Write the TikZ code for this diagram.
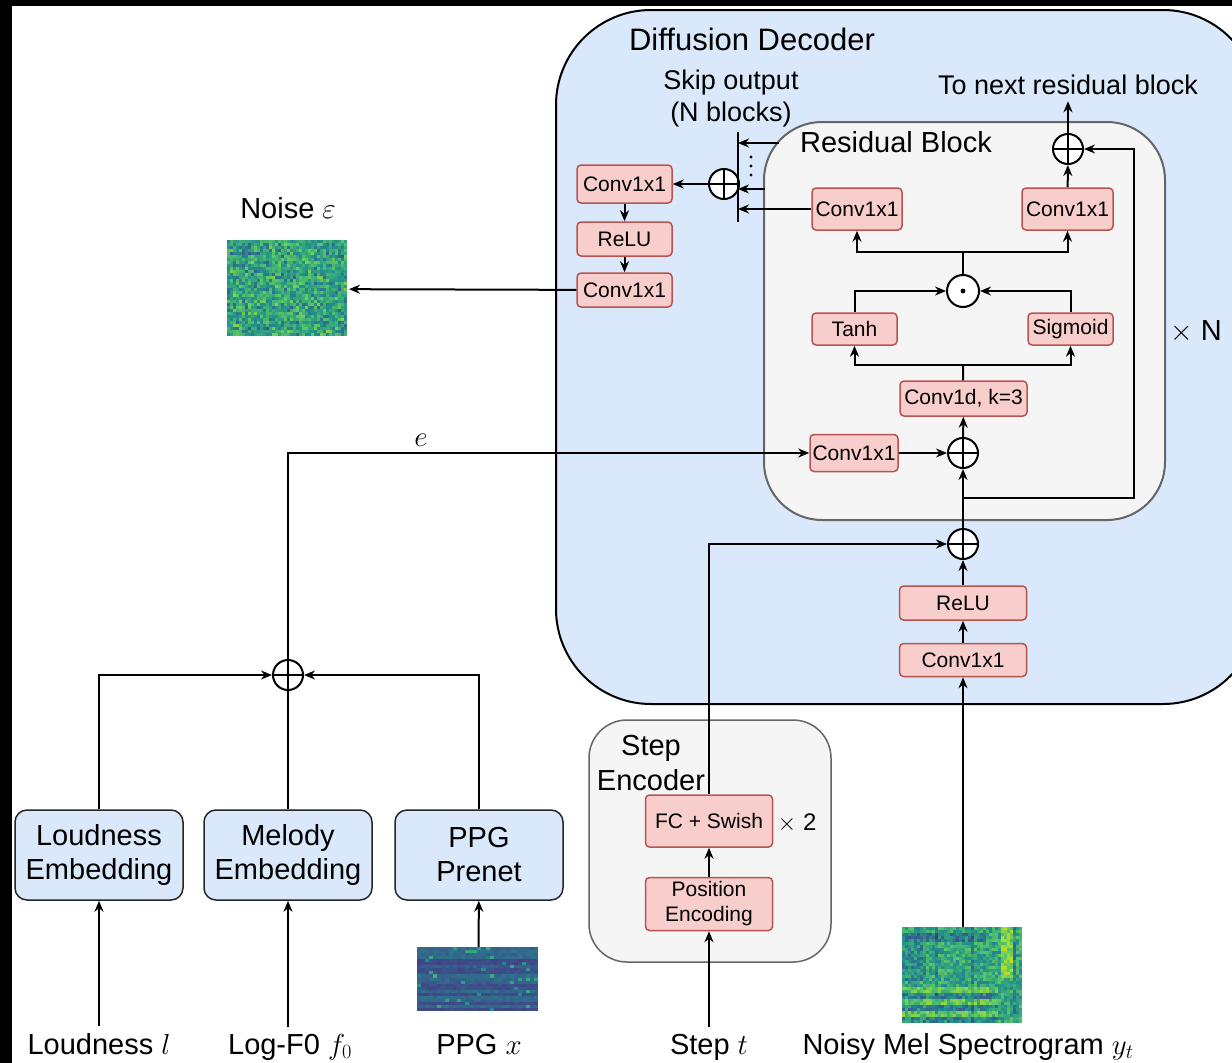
\documentclass[tikz,border=0pt]{standalone}
\usepackage{fix-cm}
\usepackage[no-math]{fontspec}
\setmainfont{Liberation Sans}
\usepackage{tikz}
\usetikzlibrary{positioning,calc,arrows.meta}

\definecolor{decblue}{HTML}{DAE8FC}
\definecolor{resgray}{HTML}{F5F5F5}
\definecolor{resedge}{HTML}{666666}
\definecolor{opfill}{HTML}{F8CECC}
\definecolor{opedge}{HTML}{B85450}
\definecolor{vdark}{HTML}{46327E}
\definecolor{vlo}{HTML}{3B528B}
\definecolor{vmid}{HTML}{21918C}
\definecolor{vgrn}{HTML}{5EC962}
\definecolor{vyel}{HTML}{B8DE29}

% viridis-like colour for a value 0..100, stored in cellc
\newcommand\virsetcolor[1]{%
  \ifnum#1<20 \pgfmathtruncatemacro\cmix{#1*5}\colorlet{cellc}{vlo!\cmix!vdark}%
  \else\ifnum#1<45 \pgfmathtruncatemacro\cmix{(#1-20)*4}\colorlet{cellc}{vmid!\cmix!vlo}%
  \else\ifnum#1<75 \pgfmathtruncatemacro\cmix{(#1-45)*3.33}\colorlet{cellc}{vgrn!\cmix!vmid}%
  \else \pgfmathtruncatemacro\cmix{(#1-75)*4}\colorlet{cellc}{vyel!\cmix!vgrn}\fi\fi\fi}

\begin{document}
\begin{tikzpicture}[x=1pt, y=-1pt, line width=2pt, >={Stealth[length=11pt,width=9pt]},
    opbox/.style={draw=opedge, fill=opfill, rounded corners=4pt, line width=1.5pt, inner sep=0pt,
      font=\fontsize{21}{25}\selectfont, align=center},
    embbox/.style={draw=black!85, fill=decblue, rounded corners=12pt, line width=1.5pt,
      minimum width=168pt, minimum height=90pt, inner sep=0pt,
      font=\fontsize{29}{34}\selectfont, align=center},
    sumnode/.style={circle, draw, fill=white, minimum size=30pt, inner sep=0pt,
      path picture={\draw[black] (path picture bounding box.north) -- (path picture bounding box.south)
        (path picture bounding box.west) -- (path picture bounding box.east);}},
    prodnode/.style={circle, draw, fill=white, minimum size=32pt, inner sep=0pt,
      path picture={\fill[black] (path picture bounding box.center) circle (2.4pt);}},
    lbl/.style={font=\fontsize{29}{34}\selectfont, align=center, inner sep=6pt},
    imgbox/.style={inner sep=0pt}]

  \useasboundingbox (0,0) rectangle (1232,1063);
  \fill[white] (0,0) rectangle (1232,1063);
  \clip (0,0) rectangle (1232,1063);
  \fill[black] (0,0) rectangle (1232,6);
  \fill[black] (0,0) rectangle (12,1063);

  % containers
  \draw[fill=decblue, rounded corners=95pt] (556,10) rectangle (1258,704);
  \draw[fill=resgray, draw=resedge, rounded corners=58pt] (764,122) rectangle (1165,520);
  \draw[fill=resgray, draw=resedge, rounded corners=38pt, line width=1.5pt] (589,720) rectangle (831,962);

  \node[lbl, font=\fontsize{31}{36}\selectfont, anchor=base] (dectitle) at (752,50) {Diffusion Decoder};
  \node[lbl, anchor=base] (restitle) at (896,152) {Residual Block};
  \node[lbl] (steptitle) at (651,763) {Step\\[1pt]Encoder};
  \node[lbl, font=\fontsize{27}{32}\selectfont] (skiplbl) at (731,99) {Skip output\\(N blocks)};
  \node[lbl, font=\fontsize{27}{32}\selectfont, anchor=base] (nextlbl) at (1068,94) {To next residual block};
  \node[lbl, anchor=base] (repn) at (1196,340) {$\times$ N};
  \node[lbl, font=\fontsize{24}{29}\selectfont, anchor=base] (rep2) at (797,830) {$\times$ 2};

  % output head
  \node[opbox, minimum width=95pt, minimum height=38pt] (skipconv) at (624.5,184) {Conv1x1};
  \node[opbox, minimum width=95pt, minimum height=34pt] (skiprelu) at (624.5,239) {ReLU};
  \node[opbox, minimum width=95pt, minimum height=34pt] (outconv) at (624.5,290) {Conv1x1};

  % residual block
  \node[opbox, minimum width=90pt, minimum height=42pt] (resskip) at (857,209) {Conv1x1};
  \node[opbox, minimum width=91pt, minimum height=42pt] (resout) at (1067.5,209) {Conv1x1};
  \node[opbox, minimum width=85pt, minimum height=32pt] (tanh) at (854.5,329) {Tanh};
  \node[opbox, minimum width=85pt, minimum height=32pt] (sigm) at (1070.5,329) {Sigmoid};
  \node[opbox, minimum width=127pt, minimum height=35pt] (dilconv) at (963.5,398.5) {Conv1d, k=3};
  \node[opbox, minimum width=88pt, minimum height=37pt] (condconv) at (854,453) {Conv1x1};

  % input path
  \node[opbox, minimum width=127pt, minimum height=34pt] (inrelu) at (963,603) {ReLU};
  \node[opbox, minimum width=127pt, minimum height=33pt] (inconv) at (963,660) {Conv1x1};
  \node[opbox, minimum width=127pt, minimum height=52pt] (fc) at (709,821) {FC + Swish};
  \node[opbox, minimum width=127pt, minimum height=53pt] (posenc) at (709,904) {Position\\Encoding};

  \node[sumnode] (addskip) at (724,184) {};
  \node[sumnode] (addres) at (1068,149) {};
  \node[prodnode] (gate) at (963,291) {};
  \node[sumnode] (addcond) at (963,453) {};
  \node[sumnode] (addstep) at (963,544) {};
  \node[sumnode] (addemb) at (288,675) {};

  % conditioning encoders
  \node[embbox] (loud) at (99,855) {Loudness\\Embedding};
  \node[embbox] (melody) at (288,855) {Melody\\Embedding};
  \node[embbox] (ppgnet) at (479,855) {PPG\\Prenet};

  % images
  \node[imgbox, minimum width=120pt, minimum height=96pt] (noise) at (288,289) {};
  \node[imgbox, minimum width=121pt, minimum height=64pt] (ppgimg) at (478.5,980) {};
  \node[imgbox, minimum width=120pt, minimum height=96pt] (melimg) at (963,976) {};

  \pgfmathsetseed{42}
  \foreach \i in {0,...,39}{
    \foreach \j in {0,...,31}{
      \pgfmathtruncatemacro\cval{max(0,min(100,55+35*(rnd-0.5)+30*(rnd-0.5)))}
      \virsetcolor{\cval}
      \fill[cellc] ($(noise.north west)+(3*\i,3*\j)$) rectangle ++(3.3,3.3);
    }
  }
  \foreach \j in {0,...,20}{
    \pgfmathsetmacro\rowv{10+18*rnd}
    \foreach \i in {0,...,29}{
      \pgfmathtruncatemacro\cval{max(0,min(100,\rowv+10*rnd+(rnd>0.95)*28))}
      \virsetcolor{\cval}
      \fill[cellc] ($(ppgimg.north west)+(4.03*\i,3.05*\j)$) rectangle ++(4.4,3.4);
    }
  }
  \foreach \i in {0,...,39}{
    \foreach \j in {0,...,31}{
      \pgfmathtruncatemacro\cval{max(0,min(100,58+36*(rnd-0.5)
        +(\j>19)*(\i<32)*(1-2*mod(floor(\j/2),2))*16
        -((\i==11)+(\i==23)+(\i==37))*14
        +(\i>32)*(\i<37)*(\j<17)*26
        -(\j>1)*(\j<5)*(\i<28)*20
        -(\i<8)*(\j>4)*(\j<18)*12))}
      \virsetcolor{\cval}
      \fill[cellc] ($(melimg.north west)+(3*\i,3*\j)$) rectangle ++(3.3,3.3);
    }
  }

  \node[lbl, anchor=base] (noiselbl) at (288,218) {Noise $\varepsilon$};
  \node[lbl, anchor=base] (elbl) at (421,446) {$e$};
  \node[lbl, anchor=base] (loudlbl) at (99,1054) {Loudness $l$};
  \node[lbl, anchor=base] (f0lbl) at (290,1054) {Log-F0 $f_0$};
  \node[lbl, anchor=base] (ppglbl) at (479,1054) {PPG $x$};
  \node[lbl, anchor=base] (steplbl) at (709,1054) {Step $t$};
  \node[lbl, anchor=base] (mellbl) at (968,1054) {Noisy Mel Spectrogram $y_t$};

  % conditioning
  \draw[->] (loudlbl) -- (loud);
  \draw[->] (melody |- f0lbl.north) -- (melody);
  \draw[->] (ppgimg) -- (ppgnet);
  \draw[->] (loud) |- (addemb);
  \draw[->] (ppgnet) |- (addemb);
  \draw (melody) -- (addemb);
  \draw[->] (addemb) |- (condconv);
  \draw[->] (condconv) -- (addcond);

  % step and input
  \draw[->] (steplbl) -- (posenc);
  \draw[->] (posenc) -- (fc);
  \draw[->] (fc) |- (addstep);
  \draw[->] (melimg) -- (inconv);
  \draw[->] (inconv) -- (inrelu);
  \draw[->] (inrelu) -- (addstep);
  \draw[->] (addstep) -- (addcond);

  % residual block
  \coordinate (resbr) at (963,498);
  \coordinate (resturn) at (1134,498);
  \draw[->] (resbr) -- (resturn) |- (addres);
  \draw[->] (addcond) -- (dilconv);
  \coordinate (actsplit) at (963,365);
  \draw (dilconv) -- (actsplit);
  \draw[->] (actsplit) -| (tanh);
  \draw[->] (actsplit) -| (sigm);
  \draw[->] (tanh) |- (gate);
  \draw[->] (sigm) |- (gate);
  \coordinate (gatesplit) at (963,252);
  \draw (gate) -- (gatesplit);
  \draw[->] (gatesplit) -| (resskip);
  \draw[->] (gatesplit) -| (resout);
  \draw[->] (resout) -- (addres);
  \draw[->] (addres) -- (nextlbl);

  % skip connections
  \coordinate (bustop) at (738,132);
  \coordinate (busbot) at (738,222);
  \draw (bustop) -- (busbot);
  \coordinate (skipin1) at (779,143);
  \coordinate (skipin2) at (765,189);
  \draw[->] (skipin1) -- (skipin1 -| bustop);
  \draw[->] (skipin2) -- (skipin2 -| bustop);
  \draw[->] (resskip) -- (resskip -| bustop);
  \foreach \d in {157,166,175} \fill (751,\d) circle (1.6pt);
  \draw[->] (addskip) -- (skipconv);
  \draw[->] (skipconv) -- (skiprelu);
  \draw[->] (skiprelu) -- (outconv);
  \draw[->] (outconv) -- (noise);
\end{tikzpicture}
\end{document}
